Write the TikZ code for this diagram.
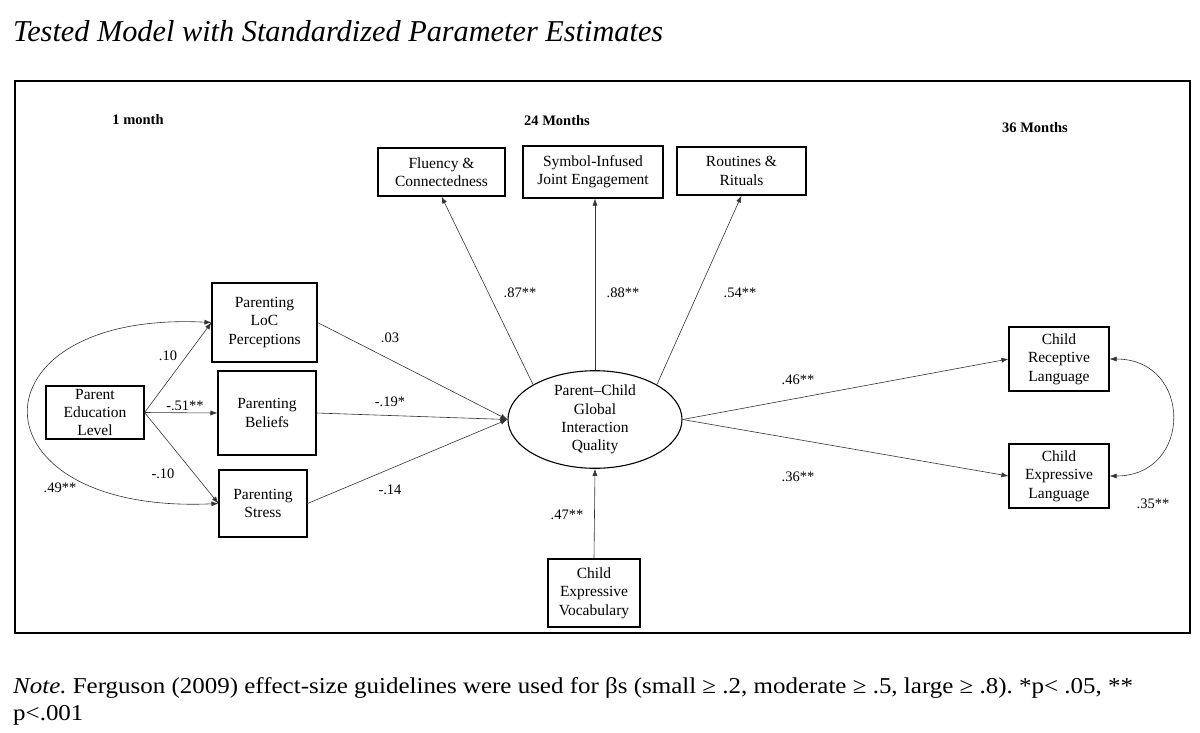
\documentclass[tikz,border=0pt]{standalone}
\usepackage{fontspec}
\setmainfont{Liberation Serif}
\newfontfamily\notefont[FakeStretch=1.10]{Liberation Serif}
\usetikzlibrary{shapes.geometric,arrows.meta}
\frenchspacing
\begin{document}
\begin{tikzpicture}[x=1pt,y=-1pt,
  >={Latex[length=7pt,width=5pt]},
  box/.style={draw, line width=1.1pt, align=center, inner sep=0pt,
    font=\fontsize{15.5}{18.3}\selectfont},
  conn/.style={line width=0.6pt, draw=black!80, ->},
  lbl/.style={font=\fontsize{14.5}{16}\selectfont, inner sep=0pt},
  hdr/.style={font=\bfseries\fontsize{14.5}{16}\selectfont, inner sep=0pt},
  notetxt/.style={anchor=base west, inner sep=0pt, font=\notefont\fontsize{22.7}{27}\selectfont}]
\useasboundingbox (0,0) rectangle (1200,732);

% title
\node[anchor=west, inner sep=0pt, font=\itshape\fontsize{30.3}{34}\selectfont] (title) at (13,31)
  {Tested Model with Standardized Parameter Estimates};

% frame
\draw[line width=2pt] (15,81) rectangle (1190,633);

% headers
\node[hdr] (h1) at (138,120) {1 month};
\node[hdr] (h2) at (557,121) {24 Months};
\node[hdr] (h3) at (1035,128) {36 Months};

% boxes
\node[box, minimum width=98pt, minimum height=53pt] (pel) at (95,412.5) {Parent\\Education\\Level};
\node[box, minimum width=105pt, minimum height=79pt] (loc) at (264.5,322.5) {Parenting\\LoC\\Perceptions};
\node[box, minimum width=98pt, minimum height=84pt] (bel) at (267,413) {Parenting\\Beliefs};
\node[box, minimum width=88pt, minimum height=67pt] (str) at (263,503.5) {Parenting\\Stress};
\node[box, minimum width=127pt, minimum height=48pt] (flu) at (441.5,172) {Fluency \&\\Connectedness};
\node[box, minimum width=140pt, minimum height=52pt] (sym) at (593,172) {Symbol-Infused\\Joint Engagement};
\node[box, minimum width=129pt, minimum height=48pt] (rou) at (741.5,171) {Routines \&\\Rituals};
\node[box, ellipse, minimum width=174pt, minimum height=85pt] (pcq) at (595,419.5) {Parent--Child\\Global\\Interaction\\Quality};
\node[box, minimum width=92pt, minimum height=68pt] (cev) at (594,593) {Child\\Expressive\\Vocabulary};
\node[box, minimum width=100pt, minimum height=64pt] (crl) at (1059,359) {Child\\Receptive\\Language};
\node[box, minimum width=100pt, minimum height=64pt] (cel) at (1059,476) {Child\\Expressive\\Language};

% connectors
\draw[conn] (pel.east) -- (loc.west);
\draw[conn] (pel.east) -- (bel.west);
\draw[conn] (pel.east) -- (str.west);
\draw[conn, <->] (loc.west) .. controls (-33,310) and (-33,515) .. (str.west);
\draw[conn] (loc.east) -- (pcq.west);
\draw[conn] (bel.east) -- (pcq.west);
\draw[conn] (str.east) -- (pcq.west);
\draw[conn] (pcq.north west) -- (flu.south);
\draw[conn] (pcq.north) -- (sym.south -| pcq.north);
\draw[conn] (pcq.north east) -- (rou.south);
\draw[conn] (cev.north) -- (pcq.south);
\draw[conn] (pcq.east) -- (crl.west);
\draw[conn] (pcq.east) -- (cel.west);
\draw[conn, <->] (crl.east) .. controls (1193,359) and (1193,476) .. (cel.east);

% labels
\node[lbl] (l1) at (168,356) {.10};
\node[lbl] (l2) at (185,406) {-.51**};
\node[lbl] (l3) at (163,474) {-.10};
\node[lbl] (l4) at (60,488) {.49**};
\node[lbl] (l5) at (390,338) {.03};
\node[lbl] (l6) at (390,402) {-.19*};
\node[lbl] (l7) at (390,490) {-.14};
\node[lbl] (l8) at (520,293) {.87**};
\node[lbl] (l9) at (623,293) {.88**};
\node[lbl] (l10) at (740,293) {.54**};
\node[lbl] (l11) at (567,515) {.47**};
\node[lbl] (l12) at (798,380) {.46**};
\node[lbl] (l13) at (798,477) {.36**};
\node[lbl] (l14) at (1153,504) {.35**};

% note
\node[notetxt] (note1) at (13,693)
  {\textit{Note.} Ferguson (2009) effect-size guidelines were used for βs (small ≥ .2, moderate ≥ .5, large ≥ .8). *p< .05, **};
\node[notetxt] (note2) at (13,720) {p<.001};
\end{tikzpicture}
\end{document}
